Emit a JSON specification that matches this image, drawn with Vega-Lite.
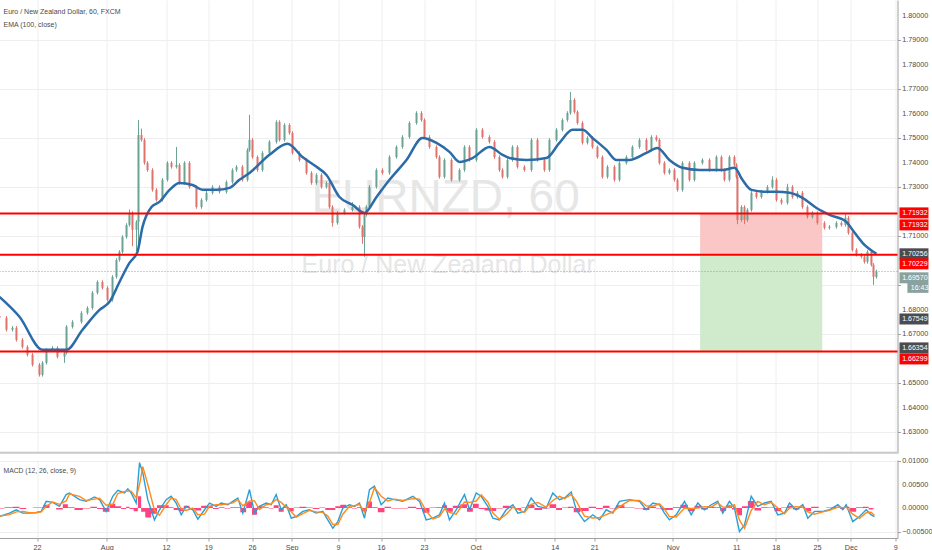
{
"$schema": "https://vega.github.io/schema/vega-lite/v6.json",
"background": "white",
"padding": {"left": -5.5, "top": 0, "right": 0, "bottom": 0},
"spacing": 2,
"config": {
  "view": {"stroke": null},
  "font": "Liberation Sans",
  "axis": {"labelFont": "Liberation Sans", "labelFontSize": 7.2, "labelColor": "#4a4a4a", "gridColor": "#eeeeee", "domainColor": "#a0a0a0", "tickColor": "#a0a0a0", "tickSize": 3, "labelPadding": 2}
},
"datasets": {
"px": [
{"d":-4.37,"o":1.6775,"h":1.6782,"l":1.6761,"c":1.6768},
{"d":-3.56,"o":1.6768,"h":1.6775,"l":1.6712,"c":1.6719},
{"d":-2.86,"o":1.6719,"h":1.6734,"l":1.6712,"c":1.6727},
{"d":-2.40,"o":1.6727,"h":1.6734,"l":1.6671,"c":1.6678},
{"d":-1.70,"o":1.6678,"h":1.6685,"l":1.6642,"c":1.6649},
{"d":-1.12,"o":1.6649,"h":1.6656,"l":1.6610,"c":1.6617},
{"d":-0.53,"o":1.6617,"h":1.6624,"l":1.6569,"c":1.6576},
{"d":0.28,"o":1.6576,"h":1.6583,"l":1.6528,"c":1.6535},
{"d":0.63,"o":1.6535,"h":1.6591,"l":1.6528,"c":1.6584},
{"d":1.09,"o":1.6584,"h":1.6644,"l":1.6577,"c":1.6637},
{"d":1.79,"o":1.6637,"h":1.6652,"l":1.6630,"c":1.6645},
{"d":2.37,"o":1.6645,"h":1.6652,"l":1.6602,"c":1.6609},
{"d":3.19,"o":1.6609,"h":1.6632,"l":1.6584,"c":1.6625},
{"d":3.42,"o":1.6625,"h":1.6738,"l":1.6618,"c":1.6731},
{"d":4.12,"o":1.6731,"h":1.6758,"l":1.6724,"c":1.6751},
{"d":5.16,"o":1.6751,"h":1.6795,"l":1.6744,"c":1.6788},
{"d":5.86,"o":1.6788,"h":1.6815,"l":1.6781,"c":1.6808},
{"d":6.44,"o":1.6808,"h":1.6877,"l":1.6801,"c":1.6870},
{"d":7.02,"o":1.6870,"h":1.6921,"l":1.6863,"c":1.6914},
{"d":7.60,"o":1.6914,"h":1.6921,"l":1.6883,"c":1.6890},
{"d":8.19,"o":1.6890,"h":1.6897,"l":1.6834,"c":1.6841},
{"d":8.77,"o":1.6841,"h":1.6942,"l":1.6834,"c":1.6935},
{"d":9.23,"o":1.6935,"h":1.7011,"l":1.6928,"c":1.7004},
{"d":9.58,"o":1.7004,"h":1.7044,"l":1.6997,"c":1.7037},
{"d":9.93,"o":1.7037,"h":1.7105,"l":1.7030,"c":1.7098},
{"d":10.40,"o":1.7098,"h":1.7154,"l":1.7091,"c":1.7147},
{"d":10.74,"o":1.7147,"h":1.7210,"l":1.7140,"c":1.7196},
{"d":11.09,"o":1.7196,"h":1.7203,"l":1.7060,"c":1.7127},
{"d":11.56,"o":1.7127,"h":1.7166,"l":1.7040,"c":1.7159},
{"d":11.79,"o":1.7159,"h":1.7575,"l":1.7037,"c":1.7514},
{"d":12.14,"o":1.7514,"h":1.7540,"l":1.7487,"c":1.7494},
{"d":12.49,"o":1.7494,"h":1.7501,"l":1.7393,"c":1.7400},
{"d":12.84,"o":1.7400,"h":1.7407,"l":1.7364,"c":1.7371},
{"d":13.42,"o":1.7371,"h":1.7378,"l":1.7283,"c":1.7290},
{"d":13.88,"o":1.7290,"h":1.7297,"l":1.7242,"c":1.7249},
{"d":14.58,"o":1.7249,"h":1.7338,"l":1.7242,"c":1.7331},
{"d":15.16,"o":1.7331,"h":1.7407,"l":1.7324,"c":1.7400},
{"d":15.63,"o":1.7400,"h":1.7407,"l":1.7377,"c":1.7384},
{"d":16.21,"o":1.7384,"h":1.7465,"l":1.7377,"c":1.7392},
{"d":16.56,"o":1.7392,"h":1.7399,"l":1.7311,"c":1.7318},
{"d":17.14,"o":1.7318,"h":1.7407,"l":1.7311,"c":1.7400},
{"d":17.72,"o":1.7400,"h":1.7407,"l":1.7295,"c":1.7302},
{"d":18.53,"o":1.7302,"h":1.7309,"l":1.7213,"c":1.7220},
{"d":19.12,"o":1.7220,"h":1.7256,"l":1.7213,"c":1.7249},
{"d":19.70,"o":1.7249,"h":1.7285,"l":1.7242,"c":1.7278},
{"d":20.40,"o":1.7278,"h":1.7309,"l":1.7271,"c":1.7302},
{"d":21.21,"o":1.7302,"h":1.7309,"l":1.7275,"c":1.7282},
{"d":22.02,"o":1.7282,"h":1.7329,"l":1.7275,"c":1.7322},
{"d":22.72,"o":1.7322,"h":1.7378,"l":1.7315,"c":1.7371},
{"d":23.19,"o":1.7371,"h":1.7391,"l":1.7364,"c":1.7384},
{"d":23.88,"o":1.7384,"h":1.7391,"l":1.7324,"c":1.7331},
{"d":24.47,"o":1.7331,"h":1.7460,"l":1.7324,"c":1.7453},
{"d":24.70,"o":1.7453,"h":1.7596,"l":1.7446,"c":1.7494},
{"d":25.05,"o":1.7494,"h":1.7501,"l":1.7417,"c":1.7424},
{"d":25.63,"o":1.7424,"h":1.7431,"l":1.7364,"c":1.7371},
{"d":26.21,"o":1.7371,"h":1.7448,"l":1.7364,"c":1.7441},
{"d":27.02,"o":1.7441,"h":1.7493,"l":1.7434,"c":1.7486},
{"d":27.84,"o":1.7486,"h":1.7574,"l":1.7479,"c":1.7567},
{"d":28.19,"o":1.7567,"h":1.7574,"l":1.7487,"c":1.7494},
{"d":28.77,"o":1.7494,"h":1.7562,"l":1.7487,"c":1.7555},
{"d":29.35,"o":1.7555,"h":1.7562,"l":1.7515,"c":1.7522},
{"d":29.70,"o":1.7522,"h":1.7529,"l":1.7434,"c":1.7441},
{"d":30.51,"o":1.7441,"h":1.7448,"l":1.7405,"c":1.7412},
{"d":31.33,"o":1.7412,"h":1.7419,"l":1.7352,"c":1.7359},
{"d":31.91,"o":1.7359,"h":1.7366,"l":1.7311,"c":1.7318},
{"d":32.49,"o":1.7318,"h":1.7358,"l":1.7311,"c":1.7351},
{"d":33.07,"o":1.7351,"h":1.7358,"l":1.7295,"c":1.7302},
{"d":33.65,"o":1.7302,"h":1.7325,"l":1.7295,"c":1.7318},
{"d":34.00,"o":1.7318,"h":1.7325,"l":1.7213,"c":1.7220},
{"d":34.35,"o":1.7220,"h":1.7227,"l":1.7140,"c":1.7155},
{"d":34.93,"o":1.7155,"h":1.7203,"l":1.7148,"c":1.7196},
{"d":35.74,"o":1.7196,"h":1.7215,"l":1.7189,"c":1.7208},
{"d":36.67,"o":1.7208,"h":1.7240,"l":1.7201,"c":1.7220},
{"d":37.49,"o":1.7220,"h":1.7227,"l":1.7132,"c":1.7139},
{"d":37.84,"o":1.7139,"h":1.7146,"l":1.7070,"c":1.7098},
{"d":38.07,"o":1.7098,"h":1.7195,"l":1.7017,"c":1.7188},
{"d":38.30,"o":1.7188,"h":1.7227,"l":1.7181,"c":1.7220},
{"d":38.65,"o":1.7220,"h":1.7309,"l":1.7213,"c":1.7302},
{"d":39.46,"o":1.7302,"h":1.7378,"l":1.7295,"c":1.7371},
{"d":40.16,"o":1.7371,"h":1.7378,"l":1.7352,"c":1.7359},
{"d":40.98,"o":1.7359,"h":1.7431,"l":1.7352,"c":1.7424},
{"d":41.79,"o":1.7424,"h":1.7472,"l":1.7417,"c":1.7465},
{"d":42.49,"o":1.7465,"h":1.7513,"l":1.7458,"c":1.7506},
{"d":43.30,"o":1.7506,"h":1.7570,"l":1.7499,"c":1.7563},
{"d":44.12,"o":1.7563,"h":1.7611,"l":1.7556,"c":1.7604},
{"d":44.70,"o":1.7604,"h":1.7611,"l":1.7568,"c":1.7575},
{"d":45.05,"o":1.7575,"h":1.7582,"l":1.7499,"c":1.7506},
{"d":45.63,"o":1.7506,"h":1.7513,"l":1.7458,"c":1.7465},
{"d":46.44,"o":1.7465,"h":1.7472,"l":1.7417,"c":1.7424},
{"d":46.79,"o":1.7424,"h":1.7431,"l":1.7336,"c":1.7343},
{"d":47.37,"o":1.7343,"h":1.7419,"l":1.7336,"c":1.7412},
{"d":48.19,"o":1.7412,"h":1.7419,"l":1.7324,"c":1.7331},
{"d":49.12,"o":1.7331,"h":1.7378,"l":1.7324,"c":1.7371},
{"d":49.70,"o":1.7371,"h":1.7472,"l":1.7364,"c":1.7465},
{"d":50.28,"o":1.7465,"h":1.7472,"l":1.7405,"c":1.7412},
{"d":51.09,"o":1.7412,"h":1.7542,"l":1.7405,"c":1.7535},
{"d":51.79,"o":1.7535,"h":1.7542,"l":1.7499,"c":1.7506},
{"d":52.60,"o":1.7506,"h":1.7513,"l":1.7479,"c":1.7486},
{"d":53.19,"o":1.7486,"h":1.7493,"l":1.7417,"c":1.7424},
{"d":53.77,"o":1.7424,"h":1.7431,"l":1.7364,"c":1.7371},
{"d":54.12,"o":1.7371,"h":1.7378,"l":1.7336,"c":1.7343},
{"d":54.70,"o":1.7343,"h":1.7419,"l":1.7336,"c":1.7412},
{"d":55.28,"o":1.7412,"h":1.7472,"l":1.7405,"c":1.7465},
{"d":55.86,"o":1.7465,"h":1.7472,"l":1.7377,"c":1.7384},
{"d":56.67,"o":1.7384,"h":1.7391,"l":1.7364,"c":1.7371},
{"d":57.49,"o":1.7371,"h":1.7501,"l":1.7364,"c":1.7494},
{"d":58.19,"o":1.7494,"h":1.7501,"l":1.7405,"c":1.7412},
{"d":59.00,"o":1.7412,"h":1.7419,"l":1.7364,"c":1.7371},
{"d":59.58,"o":1.7371,"h":1.7501,"l":1.7364,"c":1.7494},
{"d":60.40,"o":1.7494,"h":1.7542,"l":1.7487,"c":1.7535},
{"d":61.09,"o":1.7535,"h":1.7582,"l":1.7528,"c":1.7575},
{"d":61.67,"o":1.7575,"h":1.7611,"l":1.7568,"c":1.7604},
{"d":62.02,"o":1.7604,"h":1.7690,"l":1.7597,"c":1.7657},
{"d":62.49,"o":1.7657,"h":1.7664,"l":1.7601,"c":1.7608},
{"d":62.84,"o":1.7608,"h":1.7615,"l":1.7556,"c":1.7563},
{"d":63.42,"o":1.7563,"h":1.7570,"l":1.7475,"c":1.7482},
{"d":64.00,"o":1.7482,"h":1.7509,"l":1.7475,"c":1.7502},
{"d":64.58,"o":1.7502,"h":1.7509,"l":1.7458,"c":1.7465},
{"d":65.16,"o":1.7465,"h":1.7472,"l":1.7417,"c":1.7424},
{"d":65.74,"o":1.7424,"h":1.7431,"l":1.7336,"c":1.7343},
{"d":66.33,"o":1.7343,"h":1.7391,"l":1.7336,"c":1.7384},
{"d":67.14,"o":1.7384,"h":1.7391,"l":1.7324,"c":1.7331},
{"d":67.72,"o":1.7331,"h":1.7407,"l":1.7324,"c":1.7400},
{"d":68.53,"o":1.7400,"h":1.7431,"l":1.7393,"c":1.7424},
{"d":69.23,"o":1.7424,"h":1.7472,"l":1.7417,"c":1.7465},
{"d":70.05,"o":1.7465,"h":1.7501,"l":1.7458,"c":1.7494},
{"d":70.86,"o":1.7494,"h":1.7501,"l":1.7446,"c":1.7453},
{"d":71.44,"o":1.7453,"h":1.7513,"l":1.7446,"c":1.7506},
{"d":72.02,"o":1.7506,"h":1.7513,"l":1.7487,"c":1.7494},
{"d":72.37,"o":1.7494,"h":1.7501,"l":1.7393,"c":1.7400},
{"d":72.95,"o":1.7400,"h":1.7407,"l":1.7352,"c":1.7359},
{"d":73.53,"o":1.7359,"h":1.7378,"l":1.7352,"c":1.7371},
{"d":74.12,"o":1.7371,"h":1.7378,"l":1.7324,"c":1.7331},
{"d":74.47,"o":1.7331,"h":1.7338,"l":1.7283,"c":1.7290},
{"d":75.05,"o":1.7290,"h":1.7407,"l":1.7283,"c":1.7400},
{"d":75.86,"o":1.7400,"h":1.7407,"l":1.7324,"c":1.7331},
{"d":76.44,"o":1.7331,"h":1.7407,"l":1.7324,"c":1.7400},
{"d":77.37,"o":1.7400,"h":1.7419,"l":1.7393,"c":1.7412},
{"d":78.19,"o":1.7412,"h":1.7419,"l":1.7364,"c":1.7371},
{"d":79.00,"o":1.7371,"h":1.7431,"l":1.7364,"c":1.7424},
{"d":79.58,"o":1.7424,"h":1.7431,"l":1.7364,"c":1.7371},
{"d":79.93,"o":1.7371,"h":1.7378,"l":1.7324,"c":1.7331},
{"d":80.51,"o":1.7331,"h":1.7431,"l":1.7324,"c":1.7424},
{"d":81.09,"o":1.7424,"h":1.7431,"l":1.7385,"c":1.7392},
{"d":81.33,"o":1.7392,"h":1.7399,"l":1.7336,"c":1.7343},
{"d":81.44,"o":1.7343,"h":1.7350,"l":1.7150,"c":1.7167},
{"d":81.91,"o":1.7167,"h":1.7227,"l":1.7160,"c":1.7220},
{"d":82.26,"o":1.7220,"h":1.7227,"l":1.7150,"c":1.7167},
{"d":82.60,"o":1.7167,"h":1.7215,"l":1.7160,"c":1.7208},
{"d":83.07,"o":1.7208,"h":1.7285,"l":1.7201,"c":1.7278},
{"d":83.65,"o":1.7278,"h":1.7285,"l":1.7254,"c":1.7261},
{"d":84.23,"o":1.7261,"h":1.7289,"l":1.7254,"c":1.7282},
{"d":84.93,"o":1.7282,"h":1.7309,"l":1.7275,"c":1.7302},
{"d":85.51,"o":1.7302,"h":1.7345,"l":1.7295,"c":1.7331},
{"d":85.98,"o":1.7331,"h":1.7338,"l":1.7242,"c":1.7249},
{"d":86.56,"o":1.7249,"h":1.7256,"l":1.7230,"c":1.7237},
{"d":87.26,"o":1.7237,"h":1.7315,"l":1.7230,"c":1.7302},
{"d":87.84,"o":1.7302,"h":1.7309,"l":1.7254,"c":1.7261},
{"d":88.42,"o":1.7261,"h":1.7285,"l":1.7254,"c":1.7278},
{"d":89.00,"o":1.7278,"h":1.7285,"l":1.7213,"c":1.7220},
{"d":89.58,"o":1.7220,"h":1.7227,"l":1.7173,"c":1.7180},
{"d":90.16,"o":1.7180,"h":1.7203,"l":1.7173,"c":1.7196},
{"d":90.74,"o":1.7196,"h":1.7203,"l":1.7148,"c":1.7155},
{"d":91.56,"o":1.7155,"h":1.7162,"l":1.7128,"c":1.7135},
{"d":92.14,"o":1.7135,"h":1.7146,"l":1.7128,"c":1.7139},
{"d":92.95,"o":1.7139,"h":1.7162,"l":1.7132,"c":1.7155},
{"d":93.53,"o":1.7155,"h":1.7162,"l":1.7140,"c":1.7147},
{"d":94.00,"o":1.7147,"h":1.7190,"l":1.7140,"c":1.7176},
{"d":94.35,"o":1.7176,"h":1.7183,"l":1.7107,"c":1.7114},
{"d":94.81,"o":1.7114,"h":1.7121,"l":1.7038,"c":1.7045},
{"d":95.28,"o":1.7045,"h":1.7052,"l":1.7018,"c":1.7025},
{"d":95.86,"o":1.7025,"h":1.7032,"l":1.7010,"c":1.7017},
{"d":96.21,"o":1.7017,"h":1.7024,"l":1.6989,"c":1.6996},
{"d":96.56,"o":1.6996,"h":1.7044,"l":1.6989,"c":1.7037},
{"d":97.02,"o":1.7037,"h":1.7044,"l":1.6977,"c":1.6984},
{"d":97.26,"o":1.6984,"h":1.6991,"l":1.6902,"c":1.6935},
{"d":97.60,"o":1.6935,"h":1.6964,"l":1.6928,"c":1.6957}
],
"ema": [
{"d":-4.37,"v":1.6853},{"d":-2.05,"v":1.6772},{"d":0.63,"v":1.6637},{"d":3.42,"v":1.6637},{"d":5.28,"v":1.6719},{"d":7.26,"v":1.6800},{"d":8.42,"v":1.6833},{"d":9.58,"v":1.6914},{"d":10.74,"v":1.6992},{"d":11.67,"v":1.7037},{"d":12.26,"v":1.7139},{"d":13.30,"v":1.7220},{"d":14.23,"v":1.7241},{"d":15.40,"v":1.7290},{"d":16.56,"v":1.7318},{"d":18.07,"v":1.7310},{"d":19.23,"v":1.7290},{"d":20.86,"v":1.7290},{"d":22.37,"v":1.7298},{"d":23.53,"v":1.7331},{"d":24.70,"v":1.7359},{"d":27.02,"v":1.7433},{"d":29.12,"v":1.7478},{"d":30.86,"v":1.7424},{"d":32.49,"v":1.7384},{"d":33.65,"v":1.7351},{"d":35.16,"v":1.7261},{"d":36.67,"v":1.7229},{"d":38.07,"v":1.7196},{"d":39.47,"v":1.7261},{"d":40.98,"v":1.7331},{"d":42.95,"v":1.7412},{"d":44.81,"v":1.7502},{"d":46.44,"v":1.7482},{"d":47.95,"v":1.7445},{"d":49.12,"v":1.7404},{"d":50.63,"v":1.7420},{"d":52.60,"v":1.7465},{"d":54.12,"v":1.7433},{"d":54.93,"v":1.7420},{"d":56.91,"v":1.7412},{"d":59.23,"v":1.7420},{"d":60.74,"v":1.7482},{"d":62.26,"v":1.7535},{"d":63.42,"v":1.7535},{"d":64.58,"v":1.7502},{"d":66.21,"v":1.7453},{"d":67.37,"v":1.7412},{"d":68.88,"v":1.7412},{"d":70.86,"v":1.7441},{"d":72.14,"v":1.7461},{"d":73.53,"v":1.7412},{"d":75.05,"v":1.7380},{"d":77.02,"v":1.7371},{"d":78.19,"v":1.7371},{"d":79.70,"v":1.7371},{"d":81.09,"v":1.7380},{"d":82.02,"v":1.7331},{"d":83.07,"v":1.7290},{"d":84.81,"v":1.7282},{"d":85.98,"v":1.7282},{"d":87.49,"v":1.7278},{"d":89.00,"v":1.7257},{"d":90.63,"v":1.7216},{"d":92.14,"v":1.7188},{"d":94.12,"v":1.7159},{"d":94.81,"v":1.7127},{"d":95.98,"v":1.7074},{"d":97.60,"v":1.7029}
],
"macd": [
{"d":-4.37,"m":-0.00179,"s":-0.0017,"h":-0.0001},
{"d":-3.21,"m":-0.00107,"s":-0.0014,"h":0.0002},
{"d":-2.43,"m":-0.00036,"s":-0.0008,"h":0.0003},
{"d":-1.66,"m":-0.00107,"s":-0.0007,"h":-0.0002},
{"d":-0.88,"m":-0.00107,"s":-0.0010,"h":0},
{"d":-0.10,"m":-0.00093,"s":-0.0010,"h":0.0001},
{"d":0.48,"m":-0.00071,"s":-0.0008,"h":0.0001},
{"d":1.06,"m":0.00143,"s":0.0004,"h":0.0007},
{"d":1.83,"m":0.00121,"s":0.0013,"h":0},
{"d":2.60,"m":0.00036,"s":0.0008,"h":-0.0003},
{"d":3.38,"m":0.00286,"s":0.0015,"h":0.0008},
{"d":3.77,"m":0.00321,"s":0.0030,"h":0.0002},
{"d":4.93,"m":0.00179,"s":0.0025,"h":-0.0004},
{"d":5.71,"m":0.00143,"s":0.0016,"h":-0.0001},
{"d":6.67,"m":0.00236,"s":0.0019,"h":0.0003},
{"d":7.26,"m":0.00179,"s":0.0021,"h":-0.0002},
{"d":8.03,"m":-0.00071,"s":0.0006,"h":-0.0008},
{"d":8.80,"m":0.0025,"s":0.0008,"h":0.0009},
{"d":9.38,"m":0.00378,"s":0.0031,"h":0.0004},
{"d":10.16,"m":0.00321,"s":0.0035,"h":-0.0002},
{"d":10.55,"m":0.00407,"s":0.0036,"h":0.0003},
{"d":10.94,"m":0.00321,"s":0.0036,"h":-0.0002},
{"d":11.52,"m":0.00107,"s":0.0022,"h":-0.0007},
{"d":11.91,"m":0.00964,"s":0.0050,"h":0.0025},
{"d":12.29,"m":0.0075,"s":0.0088,"h":-0.0008},
{"d":12.87,"m":0.00179,"s":0.0050,"h":-0.0020},
{"d":13.65,"m":-0.0025,"s":-0.0005,"h":-0.0012},
{"d":14.23,"m":-0.00036,"s":-0.0015,"h":0.0006},
{"d":15.01,"m":0.00179,"s":0.0007,"h":0.0006},
{"d":15.59,"m":0.0025,"s":0.0021,"h":0.0002},
{"d":16.17,"m":0.00107,"s":0.0018,"h":-0.0004},
{"d":16.76,"m":-0.00143,"s":-0.0002,"h":-0.0007},
{"d":17.34,"m":0.00036,"s":-0.0005,"h":0.0005},
{"d":18.10,"m":-0.00036,"s":0,"h":-0.0002},
{"d":18.69,"m":-0.00236,"s":-0.0014,"h":-0.0005},
{"d":19.47,"m":-0.00036,"s":-0.0013,"h":0.0005},
{"d":20.05,"m":0.00107,"s":0.0004,"h":0.0004},
{"d":20.83,"m":0.00036,"s":0.0007,"h":-0.0002},
{"d":21.41,"m":0.00107,"s":0.0007,"h":0.0002},
{"d":22.17,"m":0.00071,"s":0.0009,"h":-0.0001},
{"d":22.76,"m":0.00143,"s":0.0011,"h":0.0002},
{"d":23.34,"m":0.00214,"s":0.0018,"h":0.0002},
{"d":23.92,"m":-0.00107,"s":0.0005,"h":-0.0009},
{"d":24.70,"m":0.00393,"s":0.0015,"h":0.0013},
{"d":25.28,"m":-0.00107,"s":0.0015,"h":-0.0014},
{"d":25.86,"m":0.00036,"s":-0.0003,"h":0.0004},
{"d":26.64,"m":0.00107,"s":0.0007,"h":0.0002},
{"d":27.22,"m":0.00071,"s":0.0009,"h":-0.0001},
{"d":27.80,"m":0.00286,"s":0.0018,"h":0.0006},
{"d":28.38,"m":-0.00036,"s":0.0012,"h":-0.0008},
{"d":28.97,"m":0.00071,"s":0.0002,"h":0.0003},
{"d":29.55,"m":-0.00214,"s":-0.0008,"h":-0.0007},
{"d":30.13,"m":-0.00179,"s":-0.0019,"h":0.0001},
{"d":30.90,"m":-0.00071,"s":-0.0012,"h":0.0003},
{"d":31.67,"m":-0.00036,"s":-0.0005,"h":0.0001},
{"d":32.45,"m":-0.00107,"s":-0.0008,"h":-0.0002},
{"d":33.22,"m":-0.00071,"s":-0.0009,"h":0.0001},
{"d":33.80,"m":-0.0025,"s":-0.0017,"h":-0.0004},
{"d":34.39,"m":-0.00429,"s":-0.0035,"h":-0.0004},
{"d":34.97,"m":-0.00286,"s":-0.0035,"h":0.0004},
{"d":35.55,"m":0,"s":-0.0013,"h":0.0007},
{"d":36.33,"m":0.00071,"s":0.0004,"h":0.0002},
{"d":36.91,"m":0.00036,"s":0.0005,"h":-0.0001},
{"d":37.49,"m":0.00107,"s":0.0008,"h":0.0002},
{"d":38.07,"m":-0.00214,"s":-0.0008,"h":-0.0007},
{"d":38.65,"m":0.00393,"s":0.0012,"h":0.0014},
{"d":39.23,"m":0.00464,"s":0.0043,"h":0.0002},
{"d":40.01,"m":0.00071,"s":0.0025,"h":-0.0009},
{"d":40.78,"m":0.00214,"s":0.0015,"h":0.0003},
{"d":41.56,"m":0.00179,"s":0.0019,"h":-0.0001},
{"d":42.52,"m":0.00143,"s":0.0016,"h":-0.0001},
{"d":43.69,"m":0.0025,"s":0.0020,"h":0.0003},
{"d":44.47,"m":0.00143,"s":0.0019,"h":-0.0002},
{"d":45.24,"m":-0.0025,"s":-0.0006,"h":-0.0010},
{"d":46.01,"m":-0.00214,"s":-0.0023,"h":0.0001},
{"d":46.79,"m":-0.00143,"s":-0.0018,"h":0.0002},
{"d":47.37,"m":0.00107,"s":-0.0002,"h":0.0006},
{"d":47.95,"m":-0.0025,"s":-0.0009,"h":-0.0008},
{"d":48.73,"m":-0.00036,"s":-0.0013,"h":0.0005},
{"d":49.70,"m":0.00286,"s":0.0013,"h":0.0008},
{"d":50.28,"m":-0.00036,"s":0.0012,"h":-0.0008},
{"d":51.06,"m":0.00321,"s":0.0015,"h":0.0009},
{"d":51.64,"m":0.0025,"s":0.0028,"h":-0.0002},
{"d":52.41,"m":0.00036,"s":0.0013,"h":-0.0005},
{"d":52.99,"m":-0.00214,"s":-0.0010,"h":-0.0006},
{"d":53.77,"m":-0.0025,"s":-0.0024,"h":-0.0001},
{"d":54.55,"m":-0.00036,"s":-0.0013,"h":0.0005},
{"d":55.32,"m":0.00071,"s":0.0002,"h":0.0003},
{"d":55.90,"m":-0.00107,"s":-0.0003,"h":-0.0004},
{"d":56.67,"m":-0.00071,"s":-0.0009,"h":0.0001},
{"d":57.45,"m":0.00214,"s":0.0008,"h":0.0007},
{"d":58.22,"m":0.00036,"s":0.0012,"h":-0.0004},
{"d":59.20,"m":0,"s":0.0002,"h":-0.0001},
{"d":59.97,"m":0.00321,"s":0.0016,"h":0.0008},
{"d":60.74,"m":0.00179,"s":0.0025,"h":-0.0004},
{"d":61.33,"m":0.00214,"s":0.0020,"h":0.0001},
{"d":62.11,"m":0.00343,"s":0.0029,"h":0.0003},
{"d":62.69,"m":-0.00036,"s":0.0015,"h":-0.0009},
{"d":63.65,"m":-0.00286,"s":-0.0017,"h":-0.0006},
{"d":64.62,"m":-0.00143,"s":-0.0021,"h":0.0003},
{"d":65.40,"m":-0.0025,"s":-0.0020,"h":-0.0002},
{"d":66.18,"m":-0.00036,"s":-0.0014,"h":0.0005},
{"d":66.94,"m":-0.00107,"s":-0.0008,"h":-0.0001},
{"d":67.72,"m":0.00143,"s":0.0003,"h":0.0006},
{"d":68.88,"m":0.00179,"s":0.0016,"h":0.0001},
{"d":70.05,"m":0.00143,"s":0.0016,"h":-0.0001},
{"d":70.83,"m":-0.00036,"s":0.0005,"h":-0.0004},
{"d":71.60,"m":0.00107,"s":0.0004,"h":0.0003},
{"d":72.37,"m":0.00071,"s":0.0009,"h":-0.0001},
{"d":72.95,"m":-0.00107,"s":-0.0002,"h":-0.0004},
{"d":73.53,"m":-0.0025,"s":-0.0018,"h":-0.0004},
{"d":74.32,"m":-0.00143,"s":-0.0019,"h":0.0002},
{"d":75.28,"m":0.00143,"s":0,"h":0.0007},
{"d":76.06,"m":-0.00143,"s":-0.0001,"h":-0.0007},
{"d":76.83,"m":0.00107,"s":0,"h":0.0005},
{"d":77.60,"m":-0.00036,"s":0.0003,"h":-0.0003},
{"d":78.39,"m":0.00071,"s":0.0002,"h":0.0003},
{"d":79.15,"m":0.00143,"s":0.0011,"h":0.0002},
{"d":79.73,"m":-0.00107,"s":0.0002,"h":-0.0006},
{"d":80.51,"m":0.00143,"s":0.0002,"h":0.0006},
{"d":81.09,"m":0,"s":0.0007,"h":-0.0003},
{"d":81.67,"m":-0.005,"s":-0.0025,"h":-0.0015},
{"d":82.26,"m":-0.00357,"s":-0.0043,"h":0.0004},
{"d":83.04,"m":0.0025,"s":-0.0005,"h":0.0015},
{"d":83.80,"m":0.00036,"s":0.0014,"h":-0.0005},
{"d":84.58,"m":0.00107,"s":0.0007,"h":0.0002},
{"d":85.36,"m":0.00143,"s":0.0012,"h":0.0001},
{"d":86.13,"m":-0.00143,"s":0,"h":-0.0007},
{"d":86.91,"m":-0.00107,"s":-0.0012,"h":0.0001},
{"d":87.49,"m":0.00107,"s":0,"h":0.0005},
{"d":88.27,"m":-0.00036,"s":0.0003,"h":-0.0003},
{"d":89.04,"m":0.00071,"s":0.0002,"h":0.0003},
{"d":89.62,"m":-0.00214,"s":-0.0008,"h":-0.0007},
{"d":90.40,"m":-0.00071,"s":-0.0013,"h":0.0003},
{"d":91.37,"m":-0.00071,"s":-0.0008,"h":0},
{"d":92.14,"m":-0.00036,"s":-0.0005,"h":0.0001},
{"d":93.11,"m":0.00071,"s":0.0002,"h":0.0003},
{"d":93.69,"m":-0.00036,"s":0.0001,"h":-0.0002},
{"d":94.08,"m":0.00071,"s":0.0002,"h":0.0003},
{"d":94.85,"m":-0.00286,"s":-0.0013,"h":-0.0008},
{"d":95.63,"m":-0.00179,"s":-0.0022,"h":0.0002},
{"d":96.41,"m":-0.00036,"s":-0.0010,"h":0.0003},
{"d":96.99,"m":-0.00143,"s":-0.0009,"h":-0.0003},
{"d":97.37,"m":-0.00179,"s":-0.0016,"h":-0.0001}
]
},
"vconcat": [
{
"width": 898, "height": 453,
"layer": [
{"data": {"values": [{"from":77.1,"to":91.3,"top":1.71932,"bot":1.70256,"side":"stop"},{"from":77.1,"to":91.3,"top":1.70256,"bot":1.66299,"side":"target"}]},
 "mark": {"type": "rect"},
 "encoding": {
  "x": {"field":"from","type":"quantitative","scale":{"domain":[-4.372,100.05],"nice":false,"zero":false,"padding":0},"axis":{"values":[0,8.1,15,19.9,25,29.6,35,40,45,51,60.2,64.8,73.9,81.3,85.9,90.7,94.6,99.8],"labels":false,"ticks":false,"domain":false,"grid":true,"title":null}},
  "x2": {"field":"to"},
  "y": {"field":"top","type":"quantitative","scale":{"domain":[1.6216,1.8065],"nice":false,"zero":false,"padding":0},"axis":{"orient":"right","values":[1.63,1.64,1.65,1.66,1.67,1.68,1.69,1.70,1.71,1.72,1.73,1.74,1.75,1.76,1.77,1.78,1.79,1.80],"labels":false,"grid":true,"title":null}},
  "y2": {"field":"bot"},
  "color": {"condition": {"test": "datum.side === 'stop'", "value": "#fac6c6"}, "value": "#cfebcc"}
 }},
{"data": {"values": [{}]},
 "mark": {"type":"text","text":"EURNZD, 60","fontSize":46,"color":"#e6e6e6","align":"center","baseline":"middle"},
 "encoding": {"x": {"datum": 47.5}, "y": {"datum": 1.7257}}},
{"data": {"values": [{}]},
 "mark": {"type":"text","text":"Euro / New Zealand Dollar","fontSize":25,"color":"#e6e6e6","align":"center","baseline":"middle"},
 "encoding": {"x": {"datum": 47.8}, "y": {"datum": 1.6984}}},
{"data": {"values": [{}]},
 "mark": {"type":"rule","color":"#7fa6a3","strokeDash":[1,2],"strokeWidth":1},
 "encoding": {"y": {"datum": 1.6957}}},
{"data": {"name": "px"},
 "mark": {"type":"rule","strokeWidth":1},
 "encoding": {
  "x": {"field":"d","type":"quantitative","scale":{"domain":[-4.372,100.05],"nice":false,"zero":false,"padding":0}},
  "y": {"field":"l","type":"quantitative","scale":{"domain":[1.6216,1.8065],"nice":false,"zero":false,"padding":0}},
  "y2": {"field":"h"},
  "color": {"condition": {"test":"datum.c >= datum.o","value":"#6aa393"},"value":"#de736b"}
 }},
{"data": {"name": "px"},
 "mark": {"type":"bar","size":2},
 "encoding": {
  "x": {"field":"d","type":"quantitative","scale":{"domain":[-4.372,100.05],"nice":false,"zero":false,"padding":0}},
  "y": {"field":"o","type":"quantitative","scale":{"domain":[1.6216,1.8065],"nice":false,"zero":false,"padding":0}},
  "y2": {"field":"c"},
  "color": {"condition": {"test":"datum.c >= datum.o","value":"#6aa393"},"value":"#de736b"}
 }},
{"data": {"name": "ema"},
 "mark": {"type":"line","color":"#2b6ca8","strokeWidth":2.5,"interpolate":"monotone"},
 "encoding": {
  "x": {"field":"d","type":"quantitative","scale":{"domain":[-4.372,100.05],"nice":false,"zero":false,"padding":0}},
  "y": {"field":"v","type":"quantitative","scale":{"domain":[1.6216,1.8065],"nice":false,"zero":false,"padding":0}}
 }},
{"data": {"values": [{"lv":1.71932},{"lv":1.70256},{"lv":1.66299}]},
 "mark": {"type":"rule","color":"#ff0000","strokeWidth":2},
 "encoding": {"y": {"field":"lv","type":"quantitative","scale":{"domain":[1.6216,1.8065],"nice":false,"zero":false,"padding":0}}}},
{"data": {"values": [{}]},
 "mark": {"type":"rule","color":"#c8c8c8","strokeWidth":2},
 "encoding": {"y": {"datum": 1.6217}}},
{"data": {"values": [{}]},
 "mark": {"type":"text","text":"Euro / New Zealand Dollar, 60, FXCM","fontSize":7,"color":"#4a4a4a","align":"left","baseline":"middle"},
 "encoding": {"x": {"datum": -3.91}, "y": {"datum": 1.8018}}},
{"data": {"values": [{}]},
 "mark": {"type":"text","text":"EMA (100, close)","fontSize":7,"color":"#4a4a4a","align":"left","baseline":"middle"},
 "encoding": {"x": {"datum": -3.91}, "y": {"datum": 1.7961}}},
{"data": {"values": [{"v":1.63},{"v":1.64},{"v":1.65},{"v":1.67},{"v":1.68},{"v":1.71},{"v":1.73},{"v":1.74},{"v":1.75},{"v":1.76},{"v":1.77},{"v":1.78},{"v":1.79},{"v":1.80}]},
 "mark": {"type":"text","align":"left","baseline":"middle","color":"#4a4a4a","fontSize":7.2},
 "encoding": {
  "x": {"datum": 100.6},
  "y": {"field":"v","type":"quantitative","scale":{"domain":[1.6216,1.8065],"nice":false,"zero":false,"padding":0}},
  "text": {"field":"v","type":"quantitative","format":".5f"}
 }},
{"data": {"values": [{"p":1.7196,"lab":"1.71932","k":"r"},{"p":1.7147,"lab":"1.71932","k":"r"},{"p":1.7029,"lab":"1.70256","k":"k"},{"p":1.6988,"lab":"1.70229","k":"r"},{"p":1.6931,"lab":"1.69570","k":"g"},{"p":1.6763,"lab":"1.67549","k":"k"},{"p":1.6645,"lab":"1.66354","k":"k"},{"p":1.6600,"lab":"1.66299","k":"r"}]},
 "layer": [
  {"mark": {"type":"bar","orient":"horizontal","size":11},
   "encoding": {
    "x": {"datum": 100.28}, "x2": {"datum": 103.65},
    "y": {"field":"p","type":"quantitative","scale":{"domain":[1.6216,1.8065],"nice":false,"zero":false,"padding":0}},
    "color": {"condition": [{"test":"datum.k === 'r'","value":"#ff0000"},{"test":"datum.k === 'k'","value":"#4b4b50"}],"value":"#8aa29f"}
   }},
  {"mark": {"type":"text","align":"left","baseline":"middle","color":"white","fontSize":7},
   "encoding": {
    "x": {"datum": 100.6},
    "y": {"field":"p","type":"quantitative","scale":{"domain":[1.6216,1.8065],"nice":false,"zero":false,"padding":0}},
    "text": {"field":"lab"}
   }}
 ]},
{"data": {"values": [{"p":1.6890,"lab":"16:43"}]},
 "layer": [
  {"mark": {"type":"bar","orient":"horizontal","size":10,"color":"#8aa29f"},
   "encoding": {
    "x": {"datum": 101.2}, "x2": {"datum": 103.65},
    "y": {"field":"p","type":"quantitative","scale":{"domain":[1.6216,1.8065],"nice":false,"zero":false,"padding":0}}
   }},
  {"mark": {"type":"text","align":"left","baseline":"middle","color":"white","fontSize":7},
   "encoding": {
    "x": {"datum": 101.6},
    "y": {"field":"p","type":"quantitative","scale":{"domain":[1.6216,1.8065],"nice":false,"zero":false,"padding":0}},
    "text": {"field":"lab"}
   }}
 ]}
]
},
{
"width": 898, "height": 78,
"data": {"name": "macd"},
"layer": [
{"mark": {"type":"area","color":"#ff2e72","interpolate":"step","opacity":0.9},
 "encoding": {
  "x": {"field":"d","type":"quantitative","scale":{"domain":[-4.372,100.05],"nice":false,"zero":false,"padding":0},"axis":{"values":[0,8.1,15,19.9,25,29.6,35,40,45,51,60.2,64.8,73.9,81.3,85.9,90.7,94.6,99.8],"labelExpr":"['22','Aug','12','19','26','Sep','9','16','23','Oct','14','21','Nov','11','18','25','Dec','9'][indexof([0,8.1,15,19.9,25,29.6,35,40,45,51,60.2,64.8,73.9,81.3,85.9,90.7,94.6,99.8], datum.value)]","labelOverlap":false,"labelFlush":false,"grid":true,"domain":true,"title":null}},
  "y": {"field":"h","type":"quantitative","scale":{"domain":[-0.00635,0.0102],"nice":false,"zero":false,"padding":0},"axis":{"orient":"right","values":[-0.005,0,0.005,0.01],"labels":false,"grid":true,"title":null}},
  "y2": {"datum": 0}
 }},
{"mark": {"type":"line","color":"#2a9fd6","strokeWidth":1.4},
 "encoding": {
  "x": {"field":"d","type":"quantitative"},
  "y": {"field":"m","type":"quantitative"}
 }},
{"mark": {"type":"line","color":"#ff8a1e","strokeWidth":1.4},
 "encoding": {
  "x": {"field":"d","type":"quantitative"},
  "y": {"field":"s","type":"quantitative"}
 }},
{"data": {"values": [{"v":-0.005},{"v":0},{"v":0.005},{"v":0.01}]},
 "mark": {"type":"text","align":"left","baseline":"middle","color":"#4a4a4a","fontSize":7.2},
 "encoding": {
  "x": {"datum": 100.6},
  "y": {"field":"v","type":"quantitative"},
  "text": {"field":"v","type":"quantitative","format":".5f"}
 }},
{"data": {"values": [{}]},
 "mark": {"type":"text","text":"MACD (12, 26, close, 9)","fontSize":6.8,"color":"#4a4a4a","align":"left","baseline":"middle"},
 "encoding": {"x": {"datum": -3.91}, "y": {"datum": 0.0079}}}
]
}
]
}
